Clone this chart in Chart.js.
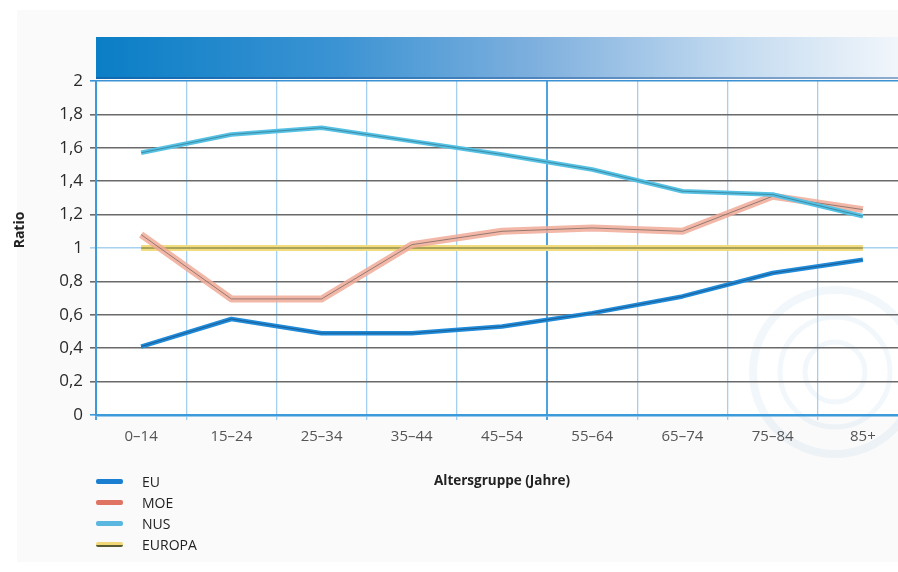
<!DOCTYPE html>
<html>
<head>
<meta charset="utf-8">
<script src="https://cdn.jsdelivr.net/npm/chart.js@4.4.1/dist/chart.umd.min.js"></script>
<style>
  html, body { margin: 0; padding: 0; background: #fff; overflow: hidden; width: 898px; height: 572px; }
  #panel { position: absolute; left: 17px; top: 10px; width: 881px; height: 552px; background: #fafafa; }
  #wrap { position: absolute; left: 0; top: 0; width: 912px; height: 572px; }
  #legend { position: absolute; left: 96px; top: 471px; font-family: "Open Sans", "Noto Sans", sans-serif; font-size: 14px; color: #222; }
  .row { height: 21px; display: flex; align-items: center; }
  .sw { width: 27px; height: 5px; margin-right: 19px; border-radius: 2px; }
</style>
</head>
<body>
<div id="panel"></div>
<div id="wrap"><canvas id="chart" width="912" height="572"></canvas></div>
<div id="legend"></div>
<script>
// Age groups (years)
const ageGroups = ['0–14', '15–24', '25–34', '35–44', '45–54', '55–64', '65–74', '75–84', '85+'];

// Ratio per region
const euValues     = [0.41, 0.575, 0.49, 0.49, 0.53, 0.61, 0.71, 0.85, 0.93];
const moeValues    = [1.08, 0.695, 0.695, 1.02, 1.10, 1.12, 1.10, 1.31, 1.23];
const nusValues    = [1.57, 1.68, 1.72, 1.64, 1.56, 1.47, 1.34, 1.32, 1.19];
const europaValues = [1, 1, 1, 1, 1, 1, 1, 1, 1];

const seriesNames = ['EU', 'MOE', 'NUS', 'EUROPA'];
const yTickLabels = ['0', '0,2', '0,4', '0,6', '0,8', '1', '1,2', '1,4', '1,6', '1,8', '2'];

const FONT = '"Open Sans", "Noto Sans", sans-serif';

// each series: a broad coloured stroke with a thin dark core on top
function layered(label, data, colour, width, core, order) {
  return [
    { label: label, data: data, borderColor: colour, borderWidth: width, order: order,
      pointRadius: 0, tension: 0, fill: false, borderJoinStyle: 'round' },
    { label: label + ' core', data: data, borderColor: core, borderWidth: 1, order: order - 1,
      pointRadius: 0, tension: 0, fill: false, borderJoinStyle: 'round' }
  ];
}

const datasets = [].concat(
  layered('EUROPA', europaValues, '#f2dc80', 6, 'rgba(70,85,40,0.85)', 80),
  layered('EU', euValues, '#1f8ad8', 4.5, 'rgba(25,55,90,0.55)', 60),
  layered('MOE', moeValues, 'rgba(240,170,152,0.85)', 7, 'rgba(110,95,90,0.7)', 50),
  layered('NUS', nusValues, '#55c1e4', 4.5, 'rgba(40,85,100,0.5)', 40)
);

// white plot area, blue banner above it, rotated y title
const decor = {
  id: 'decor',
  beforeDraw(chart) {
    const { ctx, chartArea: a, width } = chart;
    ctx.save();
    ctx.fillStyle = '#ffffff';
    ctx.fillRect(a.left, a.top, a.right - a.left, a.bottom - a.top);
    const g = ctx.createLinearGradient(a.left, 0, 898, 0);
    g.addColorStop(0, '#0a7ec6');
    g.addColorStop(0.3, '#3b93d3');
    g.addColorStop(0.55, '#7fb0de');
    g.addColorStop(0.8, '#c4dbf0');
    g.addColorStop(1, '#f1f6fb');
    ctx.fillStyle = g;
    ctx.fillRect(a.left, 37, width - a.left, 42);
    ctx.fillStyle = 'rgba(20,80,150,0.45)';
    ctx.fillRect(a.left, 77, width - a.left, 2);
    // faint emblem in the lower right
    ctx.strokeStyle = 'rgba(160,195,230,0.14)';
    ctx.lineWidth = 8;
    ctx.beginPath(); ctx.arc(835, 372, 82, 0, Math.PI * 2); ctx.stroke();
    ctx.lineWidth = 5;
    ctx.beginPath(); ctx.arc(835, 372, 55, 0, Math.PI * 2); ctx.stroke();
    ctx.beginPath(); ctx.arc(835, 372, 30, 0, Math.PI * 2); ctx.stroke();
    ctx.restore();
  },
  afterDraw(chart) {
    const { ctx } = chart;
    ctx.save();
    ctx.translate(20, 230);
    ctx.rotate(-Math.PI / 2);
    ctx.font = 'bold 14px ' + FONT;
    ctx.fillStyle = '#222';
    ctx.textAlign = 'center';
    ctx.textBaseline = 'middle';
    ctx.fillText('Ratio', 0, 0);
    ctx.restore();
  }
};

new Chart(document.getElementById('chart'), {
  type: 'line',
  data: { labels: ageGroups, datasets: datasets },
  plugins: [decor],
  options: {
    responsive: false,
    animation: false,
    layout: { padding: { top: 81, right: 4, bottom: 0, left: 0 } },
    plugins: { legend: { display: false }, tooltip: { enabled: false } },
    scales: {
      x: {
        type: 'category',
        offset: true,
        afterFit(scale) { scale.height = 157; },
        grid: {
          offset: true,
          tickLength: 5,
          color: c => (c.index === 0 || c.index === 5) ? '#4ea3df' : '#a5cfee',
          lineWidth: c => (c.index === 0 || c.index === 5) ? 2 : 1.3
        },
        border: { display: true, color: '#3b9ad9', width: 2.5 },
        ticks: { color: '#555', padding: 8, font: { family: FONT, size: 15 } },
        title: {
          display: true, text: 'Altersgruppe (Jahre)', color: '#222',
          font: { family: FONT, size: 13.5, weight: 'bold' },
          padding: { top: 0, bottom: 83 }
        }
      },
      y: {
        min: 0, max: 2,
        afterFit(scale) { scale.width = 96; },
        ticks: {
          stepSize: 0.2, padding: 7, color: '#2a2a2a',
          font: { family: FONT, size: 17 },
          callback: (v, i) => yTickLabels[i]
        },
        grid: {
          tickLength: 6,
          lineWidth: 1.6,
          color: c => {
            const v = c.tick ? c.tick.value : null;
            if (v === null) return '#6a6a6a';
            if (Math.abs(v - 1) < 1e-6) return '#a8d2ef';
            if (Math.abs(v - 2) < 1e-6) return '#3b93d6';
            if (Math.abs(v) < 1e-6) return '#3b9ad9';
            return '#6a6a6a';
          }
        },
        border: { display: true, color: '#3b9ad9', width: 2 }
      }
    }
  }
});

// legend rows built from the series names
const swatches = ['#1a7fd0', '#e07463', '#5ab8e0', 'linear-gradient(#f0d878 55%, #5a5a30 55%)'];
const legend = document.getElementById('legend');
seriesNames.forEach((name, i) => {
  const row = document.createElement('div');
  row.className = 'row';
  const sw = document.createElement('span');
  sw.className = 'sw';
  sw.style.background = swatches[i];
  const tx = document.createElement('span');
  tx.textContent = name;
  row.appendChild(sw);
  row.appendChild(tx);
  legend.appendChild(row);
});
</script>
</body>
</html>
